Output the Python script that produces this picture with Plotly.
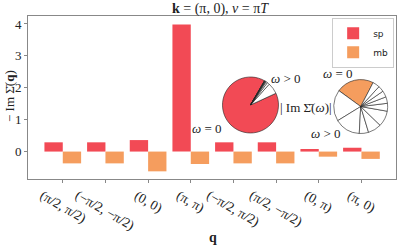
import plotly.graph_objects as go

categories = ["(π/2, π/2)", "(−π/2, −π/2)", "(0, 0)", "(π, π)",
              "(−π/2, π/2)", "(π/2, −π/2)", "(0, π)", "(π, 0)"]
sp_values = [0.29, 0.29, 0.36, 3.98, 0.29, 0.29, 0.08, 0.12]
mb_values = [-0.37, -0.37, -0.62, -0.39, -0.37, -0.37, -0.16, -0.23]

# pie insets: share of |Im Sigma(omega)| per Matsubara frequency (degrees of arc)
sp_pie = [324.8, 23.2, 5.0, 3.0, 1.5, 1.0, 0.7, 0.5, 0.3]
mb_pie = [81.3, 67.7, 55.4, 20.0, 29.0, 34.0, 17.0, 14.0, 13.6, 12.8, 15.2]

SP_COLOR = "#F24A55"
MB_COLOR = "#F59D5E"
SERIF = "Liberation Serif, DejaVu Serif, serif"

fig = go.Figure()
fig.add_trace(go.Bar(x=categories, y=sp_values, name="sp", marker_color=SP_COLOR,
                     marker_line_width=0))
fig.add_trace(go.Bar(x=categories, y=mb_values, name="mb", marker_color=MB_COLOR,
                     marker_line_width=0))

fig.add_trace(go.Pie(values=sp_pie, sort=False, direction="counterclockwise", rotation=65.2,
                     marker=dict(colors=[SP_COLOR] + ["white"] * (len(sp_pie) - 1),
                                 line=dict(color="#222222", width=0.6)),
                     textinfo="none", hoverinfo="skip", showlegend=False,
                     domain=dict(x=[0.5285, 0.6807], y=[0.282, 0.626])))
fig.add_trace(go.Pie(values=mb_pie, sort=False, direction="counterclockwise", rotation=-53.9,
                     marker=dict(colors=[MB_COLOR] + ["white"] * (len(mb_pie) - 1),
                                 line=dict(color="#222222", width=0.6)),
                     textinfo="none", hoverinfo="skip", showlegend=False,
                     domain=dict(x=[0.8307, 0.9774], y=[0.279, 0.610])))

annotations = []
for c in categories:
    annotations.append(dict(x=c, xref="x", y=-0.035, yref="paper", text=c,
                            textangle=30, showarrow=False, xanchor="center", yanchor="top",
                            font=dict(family=SERIF, size=13.5, color="#222")))

def txt(x, y, s, size=13):
    annotations.append(dict(x=x, y=y, xref="paper", yref="paper", text=s, showarrow=False,
                            xanchor="center", yanchor="middle",
                            font=dict(family=SERIF, size=size, color="#222")))

W, H = 399, 247
ML, MR, MT, MB = 28, 3, 16, 68
PW, PH = W - ML - MR, H - MT - MB
def px(xp, yp):
    return (xp - ML) / PW, (H - MB - yp) / PH

txt(*px(286, 78), "<i>ω</i> > 0")
txt(*px(207, 128), "<i>ω</i> = 0")
txt(*px(306, 107), "| Im Σ̄(<i>ω</i>)|")
txt(*px(338, 73), "<i>ω</i> = 0")
txt(*px(326, 133), "<i>ω</i> > 0")
txt(*px(213, 237), "<b>q</b>", 14)
annotations.append(dict(x=px(9, 0)[0], y=px(0, 96)[1], xref="paper", yref="paper",
                        text="− Im Σ̄(<b>q</b>)", textangle=-90, showarrow=False,
                        xanchor="center", yanchor="middle",
                        font=dict(family=SERIF, size=13, color="#222")))

fig.update_layout(
    width=W, height=H,
    margin=dict(l=ML, r=MR, t=MT, b=MB),
    paper_bgcolor="white", plot_bgcolor="white",
    barmode="group", bargap=0.14, bargroupgap=0,
    title=dict(text="<b>k</b> = (π, 0), <i>ν</i> = π<i>T</i>", x=220 / W, xanchor="center",
               y=1 - 8 / H, yanchor="middle",
               font=dict(family=SERIF, size=14, color="#222")),
    legend=dict(x=0.995, y=0.99, xanchor="right", yanchor="top",
                bordercolor="#cccccc", borderwidth=1, bgcolor="white",
                font=dict(family="DejaVu Sans, sans-serif", size=9, color="#222"),
                tracegroupgap=2, itemwidth=30),
    annotations=annotations,
    showlegend=True,
)
fig.update_xaxes(type="category", range=[-0.815, 7.81], showticklabels=False,
                 ticks="outside", ticklen=3, tickcolor="#888", showline=True,
                 linecolor="#888", linewidth=1, mirror=True, showgrid=False, zeroline=False)
fig.update_yaxes(range=[-0.86, 4.25], tickvals=[0, 1, 2, 3, 4], ticks="outside", ticklen=3,
                 tickcolor="#888", showline=True, linecolor="#888", linewidth=1, mirror=True,
                 showgrid=False, zeroline=False,
                 tickfont=dict(family=SERIF, size=13, color="#222"))

fig.write_html("out.html", config={"displayModeBar": False},
               post_script="document.body.style.margin='0';")
